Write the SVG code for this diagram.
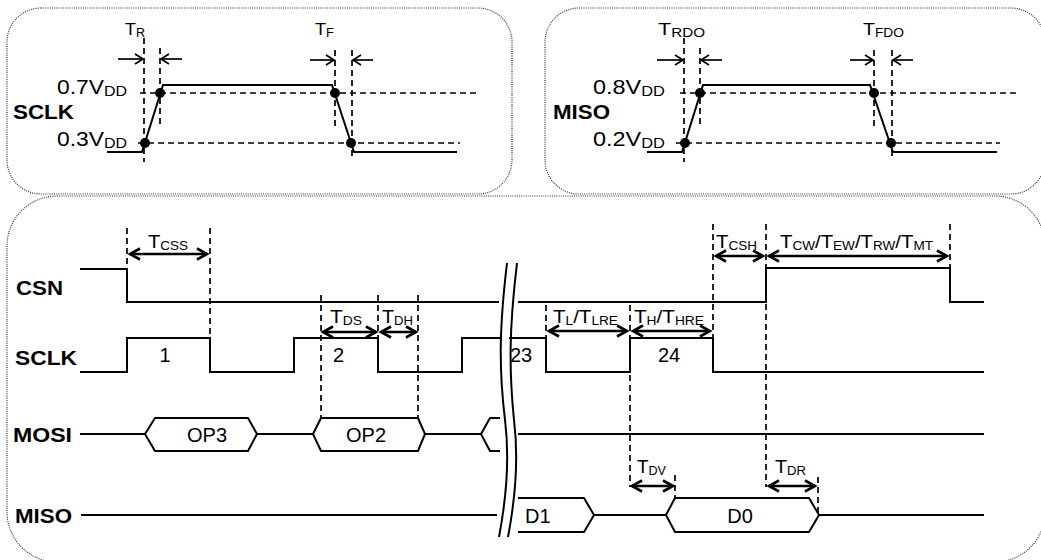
<svg xmlns="http://www.w3.org/2000/svg" width="1041" height="560" viewBox="0 0 1041 560">
<style>
.w{fill:none;stroke:#000;stroke-width:2}
.d{fill:none;stroke:#000;stroke-width:1.7;stroke-dasharray:6 4}
.box{fill:none;stroke:#333;stroke-width:1.2;stroke-dasharray:1 1.2}
.lb{font-family:"Liberation Sans",Arial,Helvetica,sans-serif;font-weight:bold;font-size:20px}
.t{font-family:"Liberation Sans",Arial,Helvetica,sans-serif;font-size:18px}
.tt{font-family:"Liberation Sans",Arial,Helvetica,sans-serif;font-size:17px}
.s{font-size:12px}
.v{font-family:"Liberation Sans",Arial,Helvetica,sans-serif;font-size:20px}
.vs{font-size:14px}
.a{fill:none;stroke:#000;stroke-width:2.5}
.a1{fill:none;stroke:#000;stroke-width:1.7}
.dot{fill:#000}
</style>
<defs>
<marker id="ah" markerUnits="userSpaceOnUse" markerWidth="16" markerHeight="16" viewBox="0 0 16 16" refX="12" refY="8" orient="auto-start-reverse">
<path d="M2,2.5 L12,8 L2,13.5" fill="none" stroke="#000" stroke-width="2.6"/>
</marker>
<marker id="ah1" markerUnits="userSpaceOnUse" markerWidth="14" markerHeight="14" viewBox="0 0 14 14" refX="11" refY="7" orient="auto">
<path d="M3,2 L11,7 L3,12" fill="none" stroke="#000" stroke-width="1.7"/>
</marker>
</defs>

<!-- frames -->
<g id="frames">
<rect class="box" x="7" y="8" width="505" height="186" rx="34"/>
<rect class="box" x="545" y="8" width="500" height="186" rx="34"/>
<rect class="box" x="7" y="196" width="1038" height="366" rx="50"/>
</g>

<!-- top-left SCLK rise/fall -->
<g id="sclk-edges">
<text class="lb" x="13" y="119" textLength="61" lengthAdjust="spacingAndGlyphs">SCLK</text>
<text class="v" x="57" y="94" textLength="70" lengthAdjust="spacingAndGlyphs">0.7V<tspan class="vs" dy="2">DD</tspan></text>
<text class="v" x="57" y="146" textLength="70" lengthAdjust="spacingAndGlyphs">0.3V<tspan class="vs" dy="2">DD</tspan></text>
<text class="tt" x="125" y="35" textLength="20" lengthAdjust="spacingAndGlyphs">T<tspan class="s" dy="2">R</tspan></text>
<text class="tt" x="315" y="35" textLength="19" lengthAdjust="spacingAndGlyphs">T<tspan class="s" dy="2">F</tspan></text>
<path class="d" d="M144,38 V162 M160,48 V128 M335,50 V128 M352,50 V157"/>
<path class="d" d="M140,93 H477 M138,143 H460"/>
<path class="w" d="M107,152 H142 L163,85 H332 L354,152 H457"/>
<circle class="dot" cx="145" cy="143" r="5"/>
<circle class="dot" cx="160" cy="93" r="5"/>
<circle class="dot" cx="335" cy="93" r="5"/>
<circle class="dot" cx="351" cy="143" r="5"/>
<path class="a1" d="M118,59 H143" marker-end="url(#ah1)"/>
<path class="a1" d="M182,59 H161" marker-end="url(#ah1)"/>
<path class="a1" d="M310,60 H334" marker-end="url(#ah1)"/>
<path class="a1" d="M373,60 H353" marker-end="url(#ah1)"/>
</g>

<!-- top-right MISO rise/fall -->
<g id="miso-edges">
<text class="lb" x="553" y="119" textLength="57" lengthAdjust="spacingAndGlyphs">MISO</text>
<text class="v" x="593" y="94" textLength="72" lengthAdjust="spacingAndGlyphs">0.8V<tspan class="vs" dy="2">DD</tspan></text>
<text class="v" x="593" y="146" textLength="72" lengthAdjust="spacingAndGlyphs">0.2V<tspan class="vs" dy="2">DD</tspan></text>
<text class="tt" x="658" y="35" textLength="47" lengthAdjust="spacingAndGlyphs">T<tspan class="s" dy="2">RDO</tspan></text>
<text class="tt" x="863" y="35" textLength="41" lengthAdjust="spacingAndGlyphs">T<tspan class="s" dy="2">FDO</tspan></text>
<path class="d" d="M684,38 V162 M700,48 V128 M874,50 V128 M892,50 V157"/>
<path class="d" d="M680,93 H1017 M676,143 H1000"/>
<path class="w" d="M647,152 H682 L703,85 H870 L893,152 H997"/>
<circle class="dot" cx="685" cy="143" r="5"/>
<circle class="dot" cx="700" cy="93" r="5"/>
<circle class="dot" cx="874" cy="93" r="5"/>
<circle class="dot" cx="891" cy="143" r="5"/>
<path class="a1" d="M657,60 H683" marker-end="url(#ah1)"/>
<path class="a1" d="M722,60 H701" marker-end="url(#ah1)"/>
<path class="a1" d="M850,60 H873" marker-end="url(#ah1)"/>
<path class="a1" d="M913,60 H893" marker-end="url(#ah1)"/>
</g>

<!-- main timing -->
<g id="csn">
<text class="lb" x="16" y="295" textLength="47" lengthAdjust="spacingAndGlyphs">CSN</text>
<path class="w" d="M80,269 H127 V302 H499 M518,302 H766 V268 H950 V302 H984"/>
</g>

<g id="sclk">
<text class="lb" x="15" y="365" textLength="62" lengthAdjust="spacingAndGlyphs">SCLK</text>
<path class="w" d="M80,372 H127 V338 H210 V372 H294 V338 H378 V372 H462 V338 H500 M509,338 H546 V372 H630 V338 H713 V372 H984"/>
<text class="v" x="165" y="362" text-anchor="middle">1</text>
<text class="v" x="333" y="362">2</text>
<text class="v" x="510" y="362">23</text>
<text class="v" x="669" y="362" text-anchor="middle">24</text>
</g>

<g id="mosi">
<text class="lb" x="13" y="442" textLength="59" lengthAdjust="spacingAndGlyphs">MOSI</text>
<path class="w" d="M80,434 H145 M257,434 H313 M425,434 H481 M518,434 H984"/>
<path class="w" d="M145,434 L155,418 H248 L257,434 L248,451 H155 Z"/>
<path class="w" d="M313,434 L321,418 H418 L425,434 L418,451 H321 Z"/>
<path class="w" d="M500,418 H490 L481,434 L490,451 H500"/>
<text class="v" x="207" y="442" text-anchor="middle">OP3</text>
<text class="v" x="366" y="442" text-anchor="middle">OP2</text>
</g>

<g id="miso">
<text class="lb" x="15" y="523" textLength="57" lengthAdjust="spacingAndGlyphs">MISO</text>
<path class="w" d="M81,515 H497 M594,515 H666 M819,515 H984"/>
<path class="w" d="M518,498 H584 L594,515 L584,532 H518"/>
<path class="w" d="M666,515 L675,498 H809 L819,515 L809,532 H675 Z"/>
<text class="v" x="525" y="523">D1</text>
<text class="v" x="740" y="523" text-anchor="middle">D0</text>
</g>

<g id="break">
<path class="w" d="M507,263 C499,330 499,370 505,420 C510,460 506,500 499,537"/>
<path class="w" d="M517,263 C509,330 509,370 514,420 C519,460 515,500 508,537"/>
</g>

<g id="timing-refs">
<path class="d" d="M127,228 V269 M210,228 V338 M321,295 V418 M378,295 V338 M418,295 V418"/>
<path class="d" d="M546,305 V338 M630,305 V487 M713,224 V338 M766,224 V487 M950,224 V268 M675,475 V498 M818,477 V515"/>
</g>

<g id="timing-arrows">
<path class="a" d="M130,254 H207" marker-start="url(#ah)" marker-end="url(#ah)"/>
<path class="a" d="M323,332 H376" marker-start="url(#ah)" marker-end="url(#ah)"/>
<path class="a" d="M381,332 H416" marker-start="url(#ah)" marker-end="url(#ah)"/>
<path class="a" d="M549,331 H627" marker-start="url(#ah)" marker-end="url(#ah)"/>
<path class="a" d="M633,331 H710" marker-start="url(#ah)" marker-end="url(#ah)"/>
<path class="a" d="M716,256 H763" marker-start="url(#ah)" marker-end="url(#ah)"/>
<path class="a" d="M769,256 H947" marker-start="url(#ah)" marker-end="url(#ah)"/>
<path class="a" d="M632,486 H673" marker-start="url(#ah)" marker-end="url(#ah)"/>
<path class="a" d="M769,486 H815" marker-start="url(#ah)" marker-end="url(#ah)"/>
</g>

<g id="timing-labels">
<text class="t" x="148" y="248" textLength="40" lengthAdjust="spacingAndGlyphs">T<tspan class="s" dy="2">CSS</tspan></text>
<text class="t" x="330" y="323" textLength="32" lengthAdjust="spacingAndGlyphs">T<tspan class="s" dy="2">DS</tspan></text>
<text class="t" x="382" y="323" textLength="31" lengthAdjust="spacingAndGlyphs">T<tspan class="s" dy="2">DH</tspan></text>
<text class="t" x="553" y="323" textLength="65" lengthAdjust="spacingAndGlyphs">T<tspan class="s" dy="2">L</tspan><tspan dy="-2">/T</tspan><tspan class="s" dy="2">LRE</tspan></text>
<text class="t" x="634" y="323" textLength="70" lengthAdjust="spacingAndGlyphs">T<tspan class="s" dy="2">H</tspan><tspan dy="-2">/T</tspan><tspan class="s" dy="2">HRE</tspan></text>
<text class="t" x="716" y="248" textLength="41" lengthAdjust="spacingAndGlyphs">T<tspan class="s" dy="2">CSH</tspan></text>
<text class="t" x="780" y="248" textLength="153" lengthAdjust="spacingAndGlyphs">T<tspan class="s" dy="2">CW</tspan><tspan dy="-2">/T</tspan><tspan class="s" dy="2">EW</tspan><tspan dy="-2">/T</tspan><tspan class="s" dy="2">RW</tspan><tspan dy="-2">/T</tspan><tspan class="s" dy="2">MT</tspan></text>
<text class="t" x="637" y="473" textLength="29" lengthAdjust="spacingAndGlyphs">T<tspan class="s" dy="2">DV</tspan></text>
<text class="t" x="775" y="473" textLength="31" lengthAdjust="spacingAndGlyphs">T<tspan class="s" dy="2">DR</tspan></text>
</g>
</svg>
